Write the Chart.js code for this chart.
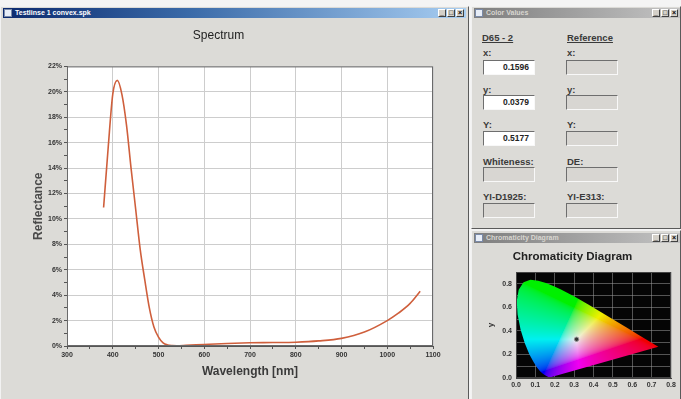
<!DOCTYPE html>
<html lang="en">
<head>
<meta charset="UTF-8">
<title>Spectrum</title>
<script src="https://cdn.jsdelivr.net/npm/chart.js@4.4.0/dist/chart.umd.min.js"></script>
<style>
    body { margin: 0; width: 681px; height: 399px; overflow: hidden; background: #f4f4f4; position: relative;
           font-family: "Liberation Sans", Arial, sans-serif; }
    .win { position: absolute; background: #dcdbd7; box-sizing: border-box;
           border: 1px solid; border-color: #f2f2f2 #5a5a5a #5a5a5a #f2f2f2; }
    .bar { position: absolute; height: 10px; font-size: 7px; font-weight: bold; line-height: 10px;
           padding-left: 12px; box-sizing: border-box; white-space: nowrap; overflow: hidden; }
    .bar .ico { position: absolute; left: 1px; top: 1px; width: 8px; height: 8px; background: #e8eef8; border: 1px solid #7a8aa8; box-sizing: border-box; }
    .active { background: linear-gradient(to right, #0c2a6e, #3a6aa8 40%, #a8cef2); color: #fff; }
    .inactive { background: linear-gradient(to right, #7e7e7e, #c4c4c4); color: #d8d6d0; }
    .btns { position: absolute; right: 2px; top: 1px; display: flex; gap: 1px; }
    .btns span { width: 8px; height: 8px; background: #d4d0c8; border: 1px solid; border-color: #fff #404040 #404040 #fff;
                 box-sizing: border-box; font-size: 7px; line-height: 6px; color: #000; text-align: center; font-weight: bold; }
    .lbl { position: absolute; font-size: 9.5px; font-weight: bold; color: #3a3a3a; white-space: nowrap; }
    .u { text-decoration: underline; }
    .box { position: absolute; width: 52px; height: 15px; box-sizing: border-box; border: 1px solid;
           border-color: #6e6e6e #f8f8f8 #f8f8f8 #6e6e6e; background: #d8d6d2; font-size: 8.5px; font-weight: bold;
           text-align: right; padding-right: 5px; line-height: 13px; color: #222; }
    .box.w { background: #fff; }
    canvas { position: absolute; }
</style>
</head>
<body>
<div class="win" style="left:0;top:6px;width:469px;height:400px;"></div>
<div class="bar active" style="left:3px;top:8px;width:463px;"><span class="ico"></span>Testlinse 1 convex.spk
    <div class="btns"><span>_</span><span>□</span><span>×</span></div></div>
<canvas id="spectrumChart" width="462" height="381" style="left:4px;top:18px;"></canvas>

<div class="win" style="left:471px;top:6px;width:210px;height:223px;"></div>
<div class="bar inactive" style="left:474px;top:8px;width:206px;"><span class="ico"></span>Color Values
    <div class="btns"><span>_</span><span>□</span><span>×</span></div></div>
<div class="lbl u" style="left:482px;top:32px;">D65 - 2</div>
<div class="lbl u" style="left:567px;top:32px;">Reference</div>
<div class="lbl" style="left:483px;top:47px;">x:</div>
<div class="lbl" style="left:567px;top:47px;">x:</div>
<div class="box w" style="left:483px;top:60px;">0.1596</div>
<div class="box" style="left:566px;top:60px;"></div>
<div class="lbl" style="left:483px;top:84px;">y:</div>
<div class="lbl" style="left:567px;top:84px;">y:</div>
<div class="box w" style="left:483px;top:95px;">0.0379</div>
<div class="box" style="left:566px;top:95px;"></div>
<div class="lbl" style="left:483px;top:119px;">Y:</div>
<div class="lbl" style="left:567px;top:119px;">Y:</div>
<div class="box w" style="left:483px;top:131px;">0.5177</div>
<div class="box" style="left:566px;top:131px;"></div>
<div class="lbl" style="left:483px;top:156px;">Whiteness:</div>
<div class="lbl" style="left:567px;top:156px;">DE:</div>
<div class="box" style="left:483px;top:167px;"></div>
<div class="box" style="left:566px;top:167px;"></div>
<div class="lbl" style="left:483px;top:191px;">YI-D1925:</div>
<div class="lbl" style="left:567px;top:191px;">YI-E313:</div>
<div class="box" style="left:483px;top:203px;"></div>
<div class="box" style="left:566px;top:203px;"></div>

<div class="win" style="left:471px;top:230px;width:210px;height:170px;"></div>
<div class="bar inactive" style="left:474px;top:233px;width:206px;"><span class="ico"></span>Chromaticity Diagram
    <div class="btns"><span>_</span><span>□</span><span>×</span></div></div>
<canvas id="chromaChart" width="205" height="156" style="left:474px;top:243px;"></canvas>

<script>
    // Measured reflectance spectrum
    const wavelengths = [380, 390, 400, 410, 420, 430, 440, 450, 460, 470, 480, 490, 500, 510, 520, 530, 540, 560,
        600, 650, 700, 750, 800, 850, 900, 950, 1000, 1025, 1050, 1072];
    const reflectance = [10.9, 15.6, 19.8, 20.9, 19.8, 17.4, 14.0, 10.8, 7.6, 5.2, 3.0, 1.5, 0.7, 0.25, 0.08, 0.03, 0.02, 0.05,
        0.12, 0.2, 0.25, 0.27, 0.3, 0.4, 0.6, 1.1, 2.0, 2.6, 3.35, 4.3];

    // CIE 1931 spectral locus (x, y)
    const locusX = [0.1741, 0.1714, 0.1644, 0.1566, 0.1440, 0.1355, 0.1241, 0.1096, 0.0913, 0.0687, 0.0454, 0.0235, 0.0082,
        0.0039, 0.0139, 0.0389, 0.0743, 0.1142, 0.1547, 0.1929, 0.2296, 0.3016, 0.3731, 0.4441, 0.5125, 0.5752, 0.6270,
        0.6658, 0.6915, 0.7190, 0.7300, 0.7347];
    const locusY = [0.0050, 0.0051, 0.0109, 0.0177, 0.0297, 0.0399, 0.0578, 0.0868, 0.1327, 0.2007, 0.2950, 0.4127, 0.5384,
        0.6548, 0.7502, 0.8120, 0.8338, 0.8262, 0.8059, 0.7816, 0.7543, 0.6923, 0.6245, 0.5547, 0.4866, 0.4242, 0.3725,
        0.3340, 0.3083, 0.2809, 0.2700, 0.2653];
    const whitePoint = [0.3127, 0.3290];

    const tickFont = { family: 'Liberation Sans', size: 7, weight: 'bold' };

    const areaFill = {
        id: 'areaFill',
        beforeDraw(chart, args, opts) {
            const { ctx, chartArea: a } = chart;
            ctx.save();
            ctx.fillStyle = opts.color;
            ctx.fillRect(a.left, a.top, a.right - a.left, a.bottom - a.top);
            ctx.restore();
        },
        afterDraw(chart, args, opts) {
            const { ctx, chartArea: a } = chart;
            ctx.save();
            ctx.strokeStyle = opts.border;
            ctx.lineWidth = 1;
            ctx.strokeRect(a.left + 0.5, a.top + 0.5, a.right - a.left - 1, a.bottom - a.top - 1);
            ctx.restore();
        }
    };

    new Chart(document.getElementById('spectrumChart'), {
        type: 'line',
        data: {
            datasets: [{
                data: wavelengths.map((w, i) => ({ x: w, y: reflectance[i] })),
                borderColor: '#cf5f3c',
                borderWidth: 1.6,
                pointRadius: 0,
                cubicInterpolationMode: 'monotone'
            }]
        },
        plugins: [areaFill],
        options: {
            responsive: false,
            animation: false,
            layout: { padding: { left: 0, right: 33, top: 0, bottom: 0 } },
            plugins: {
                legend: { display: false },
                tooltip: { enabled: false },
                title: {
                    display: true, text: 'Spectrum', color: '#222',
                    font: { family: 'Liberation Sans', size: 12, weight: 'normal' },
                    padding: { top: 10, bottom: 24 }
                },
                areaFill: { color: '#ffffff', border: '#6a6a6a' }
            },
            scales: {
                x: {
                    type: 'linear', min: 300, max: 1100,
                    afterFit: s => { s.height = 53; },
                    ticks: {
                        stepSize: 50, autoSkip: false, maxRotation: 0, padding: 2,
                        color: '#333', font: tickFont,
                        callback: v => v % 100 === 0 ? v : ''
                    },
                    grid: {
                        color: c => c.tick && c.tick.value % 100 === 0 ? '#cdcdcd' : 'rgba(0,0,0,0)',
                        tickColor: '#555', tickLength: 3
                    },
                    border: { color: '#555' },
                    title: {
                        display: true, text: 'Wavelength [nm]', color: '#3a3a3a',
                        font: { family: 'Liberation Sans', size: 12, weight: 'bold' },
                        padding: { top: 0, bottom: 20 }
                    }
                },
                y: {
                    min: 0, max: 22,
                    afterFit: s => { s.width = 63; },
                    ticks: {
                        stepSize: 1, autoSkip: false, padding: 2,
                        color: '#333', font: tickFont,
                        callback: v => v % 2 === 0 ? v + '%' : ''
                    },
                    grid: {
                        color: c => c.tick && c.tick.value % 2 === 0 ? '#cdcdcd' : 'rgba(0,0,0,0)',
                        tickColor: '#555', tickLength: 3
                    },
                    border: { color: '#555' },
                    title: {
                        display: true, text: 'Reflectance', color: '#4a4a4a',
                        font: { family: 'Liberation Sans', size: 12, weight: 'bold' },
                        padding: { top: 27, bottom: 0 }
                    }
                }
            }
        }
    });

    // chromaticity x,y -> sRGB at full brightness, toned down a little like the screenshot
    function xyToRgb(cx, cy) {
        if (cy < 0.002) cy = 0.002;
        const X = cx / cy, Y = 1, Z = (1 - cx - cy) / cy;
        let c = [
            3.2406 * X - 1.5372 * Y - 0.4986 * Z,
            -0.9689 * X + 1.8758 * Y + 0.0415 * Z,
            0.0557 * X - 0.2040 * Y + 1.0570 * Z
        ].map(v => Math.max(v, 0));
        const m = Math.max(c[0], c[1], c[2]) || 1;
        return c.map(v => {
            v /= m;
            v = v <= 0.0031308 ? 12.92 * v : 1.055 * Math.pow(v, 1 / 2.4) - 0.055;
            return Math.round(v * 240);
        });
    }

    const gamutFill = {
        id: 'gamutFill',
        beforeDatasetsDraw(chart) {
            const { ctx, chartArea: a, scales: { x, y } } = chart;
            const meta = chart.getDatasetMeta(0);
            const w = Math.ceil(a.right - a.left), h = Math.ceil(a.bottom - a.top);
            const off = document.createElement('canvas');
            off.width = w; off.height = h;
            const octx = off.getContext('2d');
            const img = octx.createImageData(w, h);
            for (let j = 0; j < h; j++) {
                for (let i = 0; i < w; i++) {
                    const rgb = xyToRgb(x.getValueForPixel(a.left + i + 0.5), y.getValueForPixel(a.top + j + 0.5));
                    const k = (j * w + i) * 4;
                    img.data[k] = rgb[0]; img.data[k + 1] = rgb[1]; img.data[k + 2] = rgb[2]; img.data[k + 3] = 255;
                }
            }
            octx.putImageData(img, 0, 0);
            ctx.save();
            ctx.beginPath();
            meta.data.forEach((p, k) => k ? ctx.lineTo(p.x, p.y) : ctx.moveTo(p.x, p.y));
            ctx.closePath();
            ctx.clip();
            ctx.drawImage(off, a.left, a.top);
            ctx.restore();
        }
    };

    new Chart(document.getElementById('chromaChart'), {
        type: 'scatter',
        data: {
            datasets: [
                {
                    type: 'line',
                    data: locusX.map((v, i) => ({ x: v, y: locusY[i] })),
                    borderWidth: 0, borderColor: 'rgba(0,0,0,0)', pointRadius: 0, fill: false
                },
                {
                    data: [{ x: whitePoint[0], y: whitePoint[1] }],
                    pointRadius: 2.2, backgroundColor: '#333', borderColor: '#999', borderWidth: 1
                }
            ]
        },
        plugins: [areaFill, gamutFill],
        options: {
            responsive: false,
            animation: false,
            layout: { padding: { left: 0, right: 8, top: 0, bottom: 0 } },
            plugins: {
                legend: { display: false },
                tooltip: { enabled: false },
                title: {
                    display: true, text: 'Chromaticity Diagram', color: '#222',
                    font: { family: 'Liberation Sans', size: 11.5, weight: 'bold' },
                    padding: { top: 7, bottom: 8.2 }
                },
                areaFill: { color: '#050505', border: '#444' }
            },
            scales: {
                x: {
                    type: 'linear', min: 0, max: 0.8, z: 1,
                    afterFit: s => { s.height = 21; },
                    ticks: {
                        stepSize: 0.1, autoSkip: false, maxRotation: 0, padding: 3,
                        color: '#333', font: tickFont,
                        callback: v => v.toFixed(1)
                    },
                    grid: { color: 'rgba(150,150,150,0.55)', tickLength: 0 },
                    border: { color: '#444' }
                },
                y: {
                    min: 0, max: 0.9, z: 1,
                    afterFit: s => { s.width = 42; },
                    ticks: {
                        stepSize: 0.1, autoSkip: false, padding: 4,
                        color: '#333', font: tickFont,
                        callback: v => (Math.round(v * 10) % 2 === 0 && v < 0.85) ? v.toFixed(1) : ''
                    },
                    grid: { color: 'rgba(150,150,150,0.55)', tickLength: 0 },
                    border: { color: '#444' },
                    title: {
                        display: true, text: 'y', color: '#333',
                        font: { family: 'Liberation Sans', size: 8, weight: 'bold' },
                        padding: { top: 12, bottom: 0 }
                    }
                }
            }
        }
    });
</script>
</body>
</html>
